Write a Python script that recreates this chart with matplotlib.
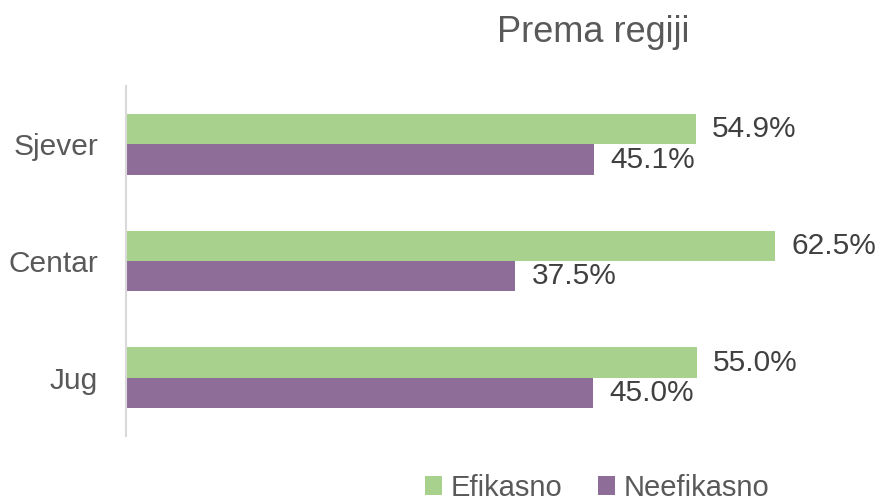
import matplotlib
matplotlib.use("Agg")
import matplotlib.pyplot as plt
import numpy as np

categories = ["Sjever", "Centar", "Jug"]
efikasno = [54.9, 62.5, 55.0]
neefikasno = [45.1, 37.5, 45.0]
series_names = ["Efikasno", "Neefikasno"]
title = "Prema regiji"

green = "#A9D18E"
purple = "#8E6E99"
text_col = "#404040"
tick_col = "#595959"

plt.rcParams['font.family'] = ['Liberation Sans', 'DejaVu Sans']

fig = plt.figure(figsize=(8.8, 5.04), dpi=100)
ax = fig.add_axes([126/880, (504-436)/504, (853-126)/880, 350/504])

y = np.arange(len(categories))
h = 0.26
b1 = ax.barh(y - h/2, efikasno, height=h, color=green, label=series_names[0])
b2 = ax.barh(y + h/2, neefikasno, height=h, color=purple, label=series_names[1])

for bars, vals in ((b1, efikasno), (b2, neefikasno)):
    for rect, v in zip(bars, vals):
        ax.annotate(f"{v:.1f}%", (rect.get_width(), rect.get_y() + rect.get_height()/2),
                    xytext=(11.5, 0), textcoords="offset points", va="center", ha="left",
                    fontsize=21.5, color=text_col)

ax.set_xlim(0, 70)
ax.set_ylim(len(categories) - 0.5, -0.5)
ax.set_yticks(y)
ax.set_yticklabels(categories, fontsize=21.5, color=tick_col)
ax.tick_params(axis='y', length=0, pad=20)
ax.set_xticks([])
for s in ["top", "right", "bottom"]:
    ax.spines[s].set_visible(False)
ax.spines["left"].set_color("#D9D9D9")
ax.spines["left"].set_linewidth(1.5)

fig.text(593/880, 1 - 33/504, title, ha="center", va="center", fontsize=26, color=tick_col)

leg = fig.legend(handles=[b1, b2], labels=series_names, loc="center",
                 bbox_to_anchor=(597/880, 1 - 488/504), ncol=2, frameon=False,
                 fontsize=21, handlelength=0.6, handleheight=0.6, handletextpad=0.3,
                 columnspacing=1.2, labelcolor=tick_col, borderpad=0.1)

fig.savefig("out.png", dpi=100)
